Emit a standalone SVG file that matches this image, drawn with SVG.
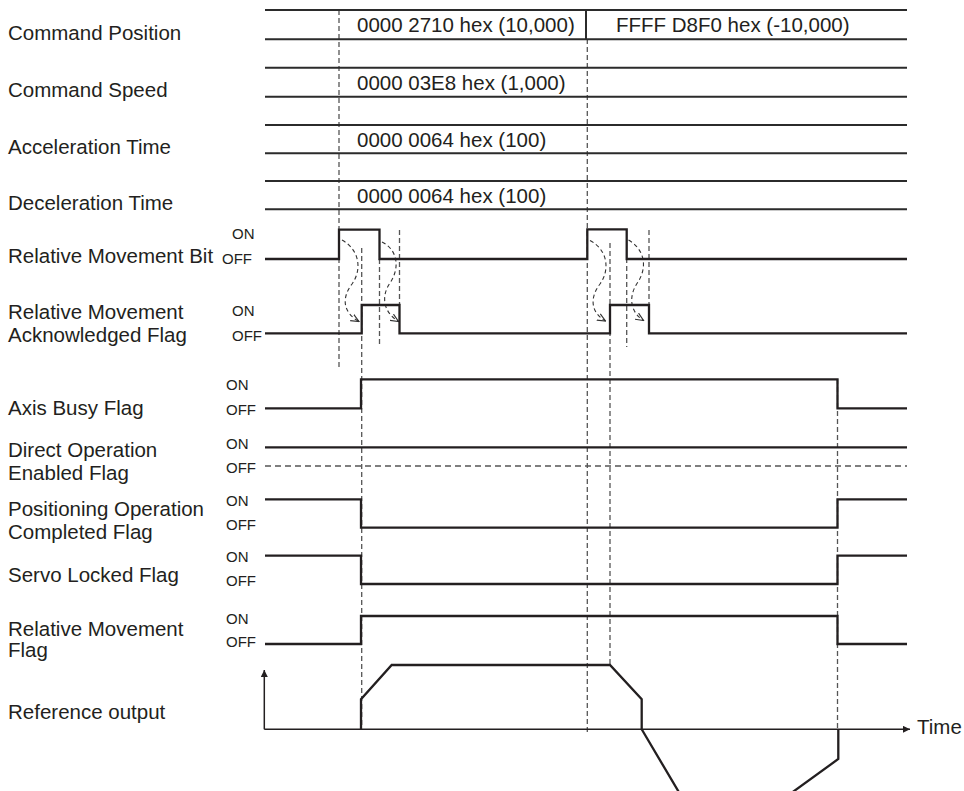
<svg xmlns="http://www.w3.org/2000/svg" width="964" height="791" viewBox="0 0 964 791">
<style>
text{font-family:"Liberation Sans",Arial,sans-serif;fill:#231f20}
.lbl{font-size:20.5px}
.oo{font-size:15px}
.val{font-size:20.5px}
.sig{fill:none;stroke:#231f20;stroke-width:2.3;stroke-linejoin:miter}
.bus{fill:none;stroke:#2b2b2b;stroke-width:2}
.dash{fill:none;stroke:#555;stroke-width:1.3;stroke-dasharray:5,3}
.curve{fill:none;stroke:#333;stroke-width:1.1;stroke-dasharray:4,3}
.axis{fill:none;stroke:#231f20;stroke-width:1.5}
</style>
<defs>
<marker id="open" viewBox="0 0 10 10" refX="9" refY="5" markerWidth="9" markerHeight="9" markerUnits="userSpaceOnUse" orient="auto"><path d="M0,1 L9,5 L0,9" fill="none" stroke="#333" stroke-width="1.3"/></marker>
<marker id="fill" viewBox="0 0 10 10" refX="10" refY="5" markerWidth="9" markerHeight="7" markerUnits="userSpaceOnUse" orient="auto"><path d="M0,0 L10,5 L0,10 z" fill="#231f20"/></marker>
</defs>
<rect width="964" height="791" fill="#fff"/>

<g id="connectors">
<path class="dash" d="M339 10 V367"/>
<path class="dash" d="M361.7 248 V728"/>
<path class="dash" d="M379.5 259 V347"/>
<path class="dash" d="M399.5 230 V305"/>
<path class="dash" d="M587.3 39 V733"/>
<path class="dash" d="M610 243 V665"/>
<path class="dash" d="M626.7 258 V347"/>
<path class="dash" d="M649 230 V305"/>
<path class="dash" d="M837.5 379 V729"/>
<path class="curve" marker-end="url(#open)" d="M342 240 C360 250,362 270,352 284 C342 297,342 312,359 321.5"/>
<path class="curve" marker-end="url(#open)" d="M382 242 C398 250,400 268,390 283 C381 296,383 312,398.5 321.5"/>
<path class="curve" marker-end="url(#open)" d="M590 240.5 C608 250,610 270,600 284 C590 297,590 312,605.5 321"/>
<path class="curve" marker-end="url(#open)" d="M628.5 240 C644 249,648 266,638 282 C628 296,630 312,643.5 320.5"/>
</g>

<g id="command-position">
<text class="lbl" x="8" y="40">Command Position</text>
<path class="bus" d="M265 10 H907 M265 39.3 H907 M586 10 V39.3"/>
<text class="val" x="357" y="32">0000 2710 hex (10,000)</text>
<text class="val" x="616" y="32">FFFF D8F0 hex (-10,000)</text>
</g>
<g id="command-speed">
<text class="lbl" x="8" y="97">Command Speed</text>
<path class="bus" d="M265 67.7 H907 M265 96.7 H907"/>
<text class="val" x="357" y="90">0000 03E8 hex (1,000)</text>
</g>
<g id="acceleration-time">
<text class="lbl" x="8" y="154">Acceleration Time</text>
<path class="bus" d="M265 125 H907 M265 153.3 H907"/>
<text class="val" x="357" y="147">0000 0064 hex (100)</text>
</g>
<g id="deceleration-time">
<text class="lbl" x="8" y="210">Deceleration Time</text>
<path class="bus" d="M265 181 H907 M265 209.3 H907"/>
<text class="val" x="357" y="203">0000 0064 hex (100)</text>
</g>

<g id="relative-movement-bit">
<text class="lbl" x="8" y="263">Relative Movement Bit</text>
<text class="oo" x="232" y="239">ON</text>
<text class="oo" x="222" y="264">OFF</text>
<path class="sig" d="M265 259 H339 V229.7 H379.5 V259 H587.3 V229.3 H626.7 V259 H907"/>
</g>
<g id="relative-movement-ack">
<text class="lbl" x="8" y="319">Relative Movement</text>
<text class="lbl" x="8" y="342">Acknowledged Flag</text>
<text class="oo" x="232" y="316">ON</text>
<text class="oo" x="232" y="341">OFF</text>
<path class="sig" d="M265 333.3 H361.7 V305 H399.5 V333.3 H610 V305 H649 V333.3 H907"/>
</g>
<g id="axis-busy">
<text class="lbl" x="8" y="415">Axis Busy Flag</text>
<text class="oo" x="226" y="390">ON</text>
<text class="oo" x="226" y="415">OFF</text>
<path class="sig" d="M265 408.3 H361 V379.3 H837.5 V408.3 H907"/>
</g>
<g id="direct-operation">
<text class="lbl" x="8" y="457">Direct Operation</text>
<text class="lbl" x="8" y="480">Enabled Flag</text>
<text class="oo" x="226" y="449">ON</text>
<text class="oo" x="226" y="473">OFF</text>
<path class="sig" d="M265 447.3 H907"/>
<path fill="none" stroke="#555" stroke-width="1.3" stroke-dasharray="6,4" d="M265 466 H907"/>
</g>
<g id="positioning-completed">
<text class="lbl" x="8" y="516">Positioning Operation</text>
<text class="lbl" x="8" y="539">Completed Flag</text>
<text class="oo" x="226" y="506">ON</text>
<text class="oo" x="226" y="530">OFF</text>
<path class="sig" d="M265 499.3 H361 V527.7 H837.5 V499.3 H907"/>
</g>
<g id="servo-locked">
<text class="lbl" x="8" y="582">Servo Locked Flag</text>
<text class="oo" x="226" y="562">ON</text>
<text class="oo" x="226" y="586">OFF</text>
<path class="sig" d="M265 555.7 H361 V584 H837.5 V555.7 H907"/>
</g>
<g id="relative-movement-flag">
<text class="lbl" x="8" y="636">Relative Movement</text>
<text class="lbl" x="8" y="657">Flag</text>
<text class="oo" x="226" y="624">ON</text>
<text class="oo" x="226" y="647">OFF</text>
<path class="sig" d="M265 644 H361 V616 H837.5 V644 H907"/>
</g>
<g id="reference-output">
<text class="lbl" x="8" y="719">Reference output</text>
<path class="axis" marker-end="url(#fill)" d="M264.3 729.3 V670"/>
<path class="axis" marker-end="url(#fill)" d="M264.3 729.3 H910"/>
<text class="val" x="917" y="734">Time</text>
<path class="sig" d="M361 729.3 V699.3 L391.7 665 H610 L641.7 699.3 V729.3 L680 794 H790 L838.3 759 V729.3"/>
</g>
</svg>
